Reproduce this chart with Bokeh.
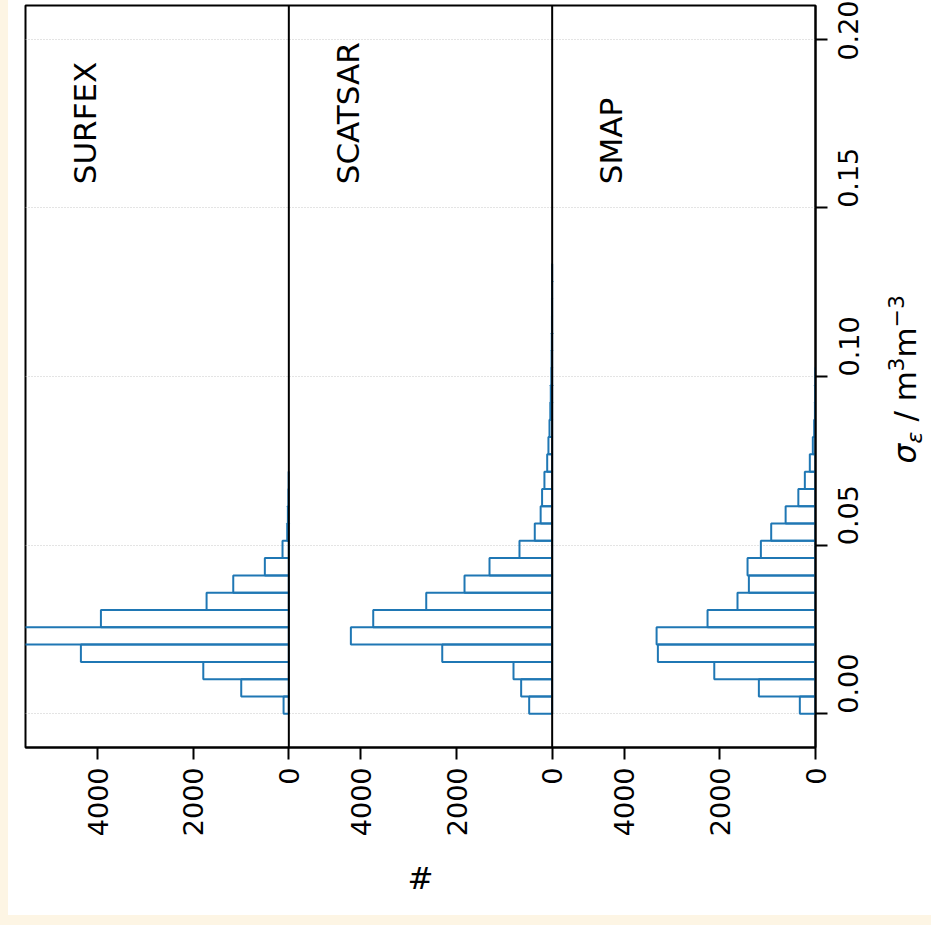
import math
from bokeh.plotting import figure
from bokeh.models import (Range1d, FixedTicker, NumeralTickFormatter,
                          Span, Label, Spacer)
from bokeh.layouts import column, row
from bokeh.embed import file_html
from bokeh.resources import INLINE

# ---------------- data ----------------
bin_start = 0.0
bin_stop = 0.2
n_bins = 39          # shared histogram bins of width 0.2/39

panel_names = ["SURFEX", "SCATSAR", "SMAP"]

surfex_counts = [110, 996, 1790, 4351, 6000, 3932, 1721, 1163, 502, 132, 34, 20, 10, 4]
scatsar_counts = [481, 649, 809, 2300, 4212, 3744, 2635, 1834, 1311, 684, 364, 241, 211,
                  162, 104, 78, 56, 39, 29, 18, 12, 8, 5, 4, 2, 1]
smap_counts = [328, 1185, 2118, 3298, 3325, 2259, 1632, 1394, 1422, 1143, 927, 625, 359,
               223, 119, 56, 28, 12, 8, 4]

count_ticks = [0, 2000, 4000]
count_tick_labels = ["0", "2000", "4000"]
sigma_ticks = [0.0, 0.05, 0.10, 0.15, 0.20]

x_label = "#"
# ---------------------------------------------------------------

XMAX = 5510          # upper count limit of every panel
BLUE = "#1f77b4"
FONT = "DejaVu Sans"
CREAM = "#FDF5E4"

bin_w = (bin_stop - bin_start) / n_bins
Y0, Y1 = -0.01, 0.21

P_W, P_H = 873, 915       # main canvas (page x 8..881)
LF_X0 = 881               # label canvas page x 881..931
TOP, BOTTOM = 5, 168      # borders -> frame page y 5..747
FRAME_H = P_H - TOP - BOTTOM


def px_to_y(ypx):
    return Y1 - (ypx - TOP) / FRAME_H * (Y1 - Y0)


p = figure(width=P_W, height=P_H,
           x_range=Range1d(3 * XMAX, 0), y_range=Range1d(Y0, Y1),
           x_axis_location="below", y_axis_location="right",
           output_backend="svg", toolbar_location=None,
           min_border_left=17, min_border_right=66,
           min_border_top=TOP, min_border_bottom=BOTTOM)
# panel k (from the right) covers counts [0, XMAX] shifted by k panels
range_names = ["p0", "p1", "p2"]
p.extra_x_ranges = {
    "p0": Range1d(XMAX, -2 * XMAX),
    "p1": Range1d(2 * XMAX, -XMAX),
    "p2": Range1d(3 * XMAX, 0),
}
p.background_fill_color = "white"
p.border_fill_color = "white"
p.outline_line_color = "black"
p.outline_line_width = 2
p.xgrid.visible = False

# right axis
ya = p.yaxis[0]
ya.ticker = FixedTicker(ticks=sigma_ticks)
ya.formatter = NumeralTickFormatter(format="0.00")
ya.major_label_orientation = math.pi / 2
ya.major_label_standoff = 21

# bottom axis: the same three count ticks under every panel
xa = p.xaxis[0]
tick_vals, overrides = [], {}
for k in range(3):
    for t, lab in zip(count_ticks, count_tick_labels):
        v = k * XMAX + t
        tick_vals.append(v)
        overrides[v] = lab
xa.ticker = FixedTicker(ticks=tick_vals)
xa.major_label_overrides = overrides
xa.major_label_orientation = math.pi / 2
xa.major_label_standoff = 8
xa.axis_label = x_label
xa.axis_label_text_font = FONT
xa.axis_label_text_font_size = "31px"
xa.axis_label_text_font_style = "normal"
xa.axis_label_text_color = "black"
xa.axis_label_standoff = 21

for ax in (xa, ya):
    ax.major_label_text_font = FONT
    ax.major_label_text_font_size = "27px"
    ax.major_label_text_color = "black"
    ax.major_tick_out = 12
    ax.major_tick_in = 0
    ax.major_tick_line_width = 2
    ax.major_tick_line_color = "black"
    ax.minor_tick_line_color = None
    ax.axis_line_width = 2
    ax.axis_line_color = "black"

p.ygrid.grid_line_color = "#c8c8c8"
p.ygrid.grid_line_dash = "1 2"
p.ygrid.grid_line_width = 1

all_counts = [surfex_counts, scatsar_counts, smap_counts]

for i, (rn, counts, name) in enumerate(zip(range_names, all_counts, panel_names)):
    centers = [bin_start + (k + 0.5) * bin_w for k in range(len(counts))]
    p.hbar(y=centers, height=bin_w, left=0, right=counts, x_range_name=rn,
           fill_color=None, line_color=BLUE, line_width=2)
    if i < 2:
        p.add_layout(Span(location=0, dimension="height", x_range_name=rn,
                          line_color="black", line_width=2))
    p.add_layout(Label(x=0.7758 * XMAX, y=0.157, x_range_name=rn, text=name,
                       angle=math.pi / 2, text_align="left",
                       text_baseline="alphabetic", text_font=FONT,
                       text_font_size="31px", text_color="black"))

# right-hand axis title: sigma_eps / m^3 m^-3, rotated, in its own canvas
lf = figure(width=931 - 8 - P_W, height=P_H,
            x_range=Range1d(LF_X0, 931), y_range=p.y_range,
            x_axis_location=None, y_axis_location=None,
            output_backend="svg", toolbar_location=None,
            min_border_left=0, min_border_right=0,
            min_border_top=TOP, min_border_bottom=BOTTOM)
lf.outline_line_color = None
lf.background_fill_color = "white"
lf.border_fill_color = "white"
lf.grid.visible = False

pieces = [   # text, page y of start, page x of baseline, size, style
    ("σ", 463, 918, 31, "italic"),
    ("ε", 443, 924, 22, "italic"),
    ("/ m", 421, 918, 31, "normal"),
    ("3", 371, 905, 22, "normal"),
    ("m", 357, 918, 31, "normal"),
    ("−3", 327, 905, 22, "normal"),
]
for txt, ypx, xpx, size, style in pieces:
    lf.add_layout(Label(x=xpx - 0.45 * size, y=px_to_y(ypx), text=txt,
                        angle=math.pi / 2, text_align="left",
                        text_baseline="alphabetic", text_font=FONT,
                        text_font_size=f"{size}px", text_font_style=style,
                        text_color="black"))

left_pad = Spacer(width=8, height=P_H, styles={"background-color": CREAM})
bottom_pad = Spacer(width=931, height=925 - P_H, styles={"background-color": CREAM})
layout = column(row(left_pad, p, lf), bottom_pad)

open("out.html", "w").write(file_html(layout, INLINE))
